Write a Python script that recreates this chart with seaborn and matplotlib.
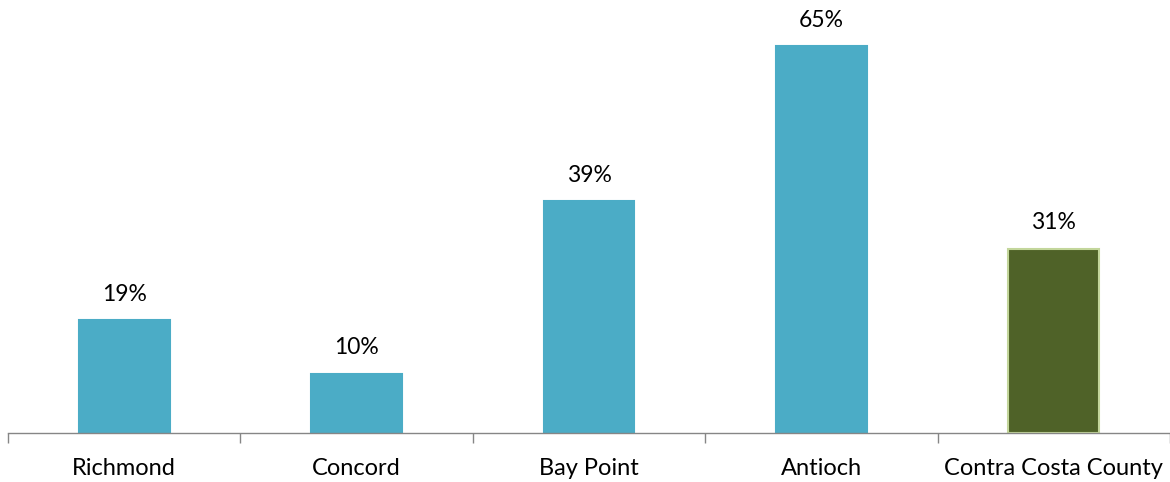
import matplotlib
matplotlib.use("Agg")
import matplotlib.pyplot as plt
import seaborn as sns
import pandas as pd

categories = ["Richmond", "Concord", "Bay Point", "Antioch", "Contra Costa County"]
values = [19, 10, 39, 65, 31]
labels = ["19%", "10%", "39%", "65%", "31%"]
colors = ["#4BACC6", "#4BACC6", "#4BACC6", "#4BACC6", "#4F6228"]
edges = ["#4BACC6", "#4BACC6", "#4BACC6", "#4BACC6", "#C3D69B"]

sns.set_theme(style="white")
plt.rcParams["font.family"] = ["Lato", "DejaVu Sans"]

df = pd.DataFrame({"cat": categories, "val": values})

fig = plt.figure(figsize=(11.70, 4.82), dpi=100)
ax = fig.add_axes([8/1170, 1 - 433/482, 1162/1170, 433/482])
sns.barplot(data=df, x="cat", y="val", hue="cat", palette=colors, legend=False,
            width=0.39, ax=ax, saturation=1)
for p, ec in zip(ax.patches, edges):
    p.set_edgecolor(ec)
    p.set_linewidth(1.5)
for p, lab in zip(ax.patches, labels):
    ax.text(p.get_x() + p.get_width() / 2, p.get_height() + 2.6, lab,
            ha="center", va="bottom", fontsize=16.5, color="#000000")

ax.set_xlim(-0.5, 4.5)
ax.set_ylim(0, 72.8)
ax.set_xlabel("")
ax.set_ylabel("")
ax.set_yticks([])
ax.set_xticks([-0.5, 0.5, 1.5, 2.5, 3.5, 4.5], minor=False)
ax.set_xticklabels([])
ax.set_xticks(range(5), minor=True)
ax.set_xticklabels(categories, minor=True, fontsize=17, color="#000000")
ax.tick_params(axis="x", which="major", length=7, width=1, color="#868686", direction="out", bottom=True)
ax.tick_params(axis="x", which="minor", length=0, pad=18)
for s in ["top", "right", "left"]:
    ax.spines[s].set_visible(False)
ax.spines["bottom"].set_color("#868686")
ax.spines["bottom"].set_linewidth(1)

fig.savefig("out.png", dpi=100)
